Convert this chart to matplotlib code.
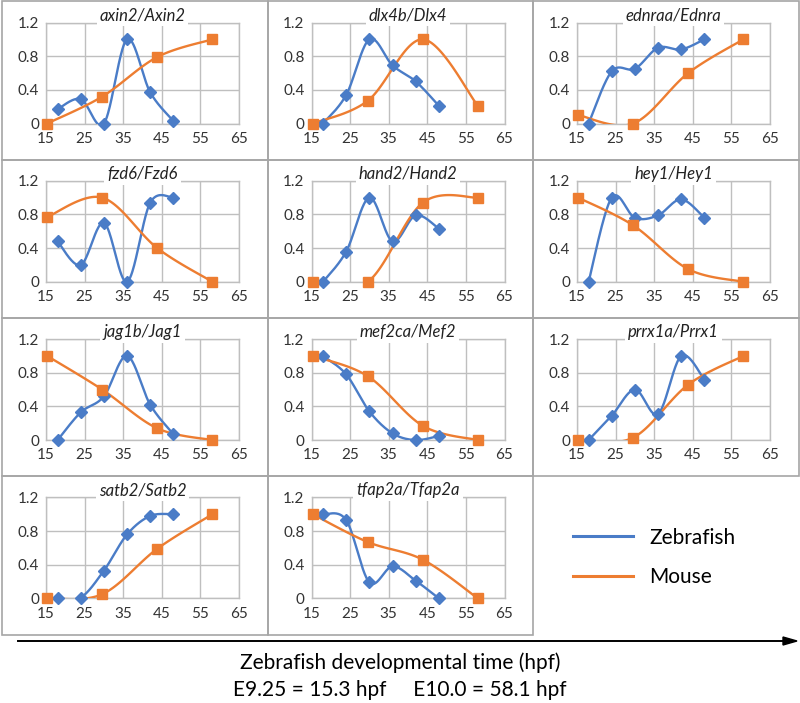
import numpy as np
import matplotlib.pyplot as plt
from matplotlib.patches import Rectangle

plt.rcParams['font.family'] = ['Lato', 'DejaVu Sans']

genes = ['axin2/Axin2', 'dlx4b/Dlx4', 'ednraa/Ednra',
         'fzd6/Fzd6', 'hand2/Hand2', 'hey1/Hey1',
         'jag1b/Jag1', 'mef2ca/Mef2', 'prrx1a/Prrx1',
         'satb2/Satb2', 'tfap2a/Tfap2a']

# sampling times (hpf); mouse E9.25..E10.0 mapped onto zebrafish time
zf_hpf = [18, 24, 30, 36, 42, 48]
mouse_hpf = [15.3, 29.57, 43.83, 58.1]

zf_expr = [
    [0.17, 0.29, 0.0, 1.0, 0.37, 0.03],
    [0.0, 0.34, 1.0, 0.69, 0.5, 0.21],
    [0.0, 0.62, 0.65, 0.9, 0.88, 1.0],
    [0.48, 0.2, 0.7, 0.0, 0.94, 1.0],
    [0.0, 0.36, 1.0, 0.48, 0.79, 0.63],
    [0.0, 1.0, 0.76, 0.79, 0.98, 0.76],
    [0.0, 0.33, 0.52, 1.0, 0.42, 0.07],
    [1.0, 0.78, 0.34, 0.08, 0.0, 0.05],
    [0.0, 0.29, 0.6, 0.31, 1.0, 0.72],
    [0.0, 0.01, 0.33, 0.76, 0.98, 1.0],
    [1.0, 0.93, 0.19, 0.38, 0.21, 0.0],
]
mouse_expr = [
    [0.0, 0.32, 0.79, 1.0],
    [0.0, 0.27, 1.0, 0.21],
    [0.1, 0.0, 0.6, 1.0],
    [0.77, 1.0, 0.4, 0.0],
    [0.0, 0.0, 0.94, 1.0],
    [1.0, 0.67, 0.15, 0.0],
    [1.0, 0.6, 0.14, 0.0],
    [1.0, 0.76, 0.17, 0.0],
    [0.0, 0.03, 0.66, 1.0],
    [0.0, 0.05, 0.59, 1.0],
    [1.0, 0.67, 0.46, 0.0],
]

BLUE = '#4a7cc7'
ORANGE = '#ed7d31'
GRID = '#bfbfbf'
BORDER = '#a6a6a6'
W, H = 800, 703


def smooth(x, y, n=40):
    # excel style smoothed line: bezier through points, catmull-rom handles
    p = np.column_stack([x, y]).astype(float)
    pts = np.vstack([p[0], p, p[-1]])
    t = np.linspace(0, 1, n)[1:, None]
    out = [p[:1]]
    for i in range(1, len(pts) - 2):
        p0, p1, p2, p3 = pts[i - 1], pts[i], pts[i + 1], pts[i + 2]
        c1 = p1 + (p2 - p0) / 6
        c2 = p2 - (p3 - p1) / 6
        seg = (1 - t) ** 3 * p1 + 3 * (1 - t) ** 2 * t * c1 \
            + 3 * (1 - t) * t ** 2 * c2 + t ** 3 * p2
        out.append(seg)
    out = np.vstack(out)
    return out[:, 0], out[:, 1]


def px_box(x0, y0, w, h):
    return [x0 / W, 1 - (y0 + h) / H, w / W, h / H]


fig = plt.figure(figsize=(8, 7.03), dpi=100)

cell_w = 265.5
cell_h = 158.3
for k, gene in enumerate(genes):
    r, c = divmod(k, 3)
    cx = 2 + c * cell_w
    cy = 1.5 + r * cell_h
    fig.add_artist(Rectangle((cx / W, 1 - (cy + cell_h) / H), cell_w / W, cell_h / H,
                             transform=fig.transFigure, fill=False,
                             edgecolor=BORDER, lw=1.2))

    ax = fig.add_axes(px_box(cx + 44, cy + 21, 193, 101))
    ax.set_xlim(15, 65)
    ax.set_ylim(0, 1.2)
    ax.set_xticks([15, 25, 35, 45, 55, 65])
    ax.set_yticks([0, 0.4, 0.8, 1.2])
    ax.set_yticklabels(['0', '0.4', '0.8', '1.2'])
    ax.tick_params(length=0, labelsize=11, labelcolor='#333333')
    ax.tick_params(axis='x', pad=6)
    ax.tick_params(axis='y', pad=5)
    ax.grid(True, color=GRID, lw=1)
    ax.set_axisbelow(True)
    for s in ax.spines.values():
        s.set_color(GRID)
        s.set_linewidth(1)

    sx, sy = smooth(zf_hpf, zf_expr[k])
    ax.plot(sx, sy, color=BLUE, lw=1.7, zorder=3)
    ax.plot(zf_hpf, zf_expr[k], ls='none', marker='D', ms=6.5,
            color=BLUE, clip_on=False, zorder=4)

    sx, sy = smooth(mouse_hpf, mouse_expr[k])
    ax.plot(sx, sy, color=ORANGE, lw=1.7, zorder=3)
    ax.plot(mouse_hpf, mouse_expr[k], ls='none', marker='s', ms=7.5,
            color=ORANGE, clip_on=False, zorder=5)

    ax.text(0.5, 1.07, gene, transform=ax.transAxes, ha='center', va='center',
            style='italic', fontsize=12, color='#222222', zorder=6,
            bbox=dict(facecolor='white', edgecolor='none', pad=2))

# legend in the empty cell
handles = [plt.Line2D([], [], color=BLUE, lw=2.2),
           plt.Line2D([], [], color=ORANGE, lw=2.2)]
fig.legend(handles, ['Zebrafish', 'Mouse'], loc='center left',
           bbox_to_anchor=(573 / W, 1 - 557.5 / H), frameon=False,
           fontsize=15, handlelength=2.9, handletextpad=0.75,
           labelspacing=0.95, borderpad=0, borderaxespad=0)

# time arrow and caption
fig.add_artist(plt.Line2D([18 / W, 785 / W], [1 - 641 / H, 1 - 641 / H],
                          color='black', lw=1.4))
fig.patches.append(plt.Polygon([[783 / W, 1 - 637 / H], [797 / W, 1 - 641 / H],
                                [783 / W, 1 - 645 / H]], closed=True,
                               color='black', transform=fig.transFigure))
fig.text(0.5, 1 - 663 / H, 'Zebrafish developmental time (hpf)',
         ha='center', va='center', fontsize=15)
fig.text(0.5, 1 - 690 / H, 'E9.25 = 15.3 hpf     E10.0 = 58.1 hpf',
         ha='center', va='center', fontsize=15)

fig.savefig('out.png', dpi=100)
